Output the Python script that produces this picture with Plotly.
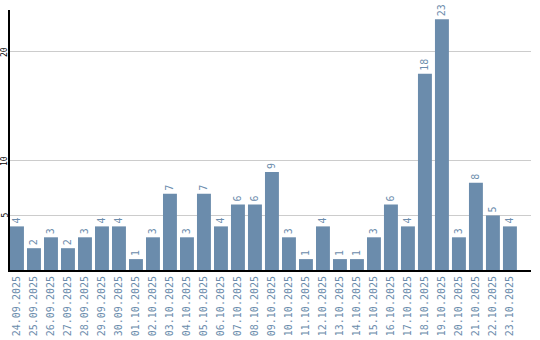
import plotly.graph_objects as go

dates = ["24.09.2025","25.09.2025","26.09.2025","27.09.2025","28.09.2025","29.09.2025","30.09.2025",
         "01.10.2025","02.10.2025","03.10.2025","04.10.2025","05.10.2025","06.10.2025","07.10.2025",
         "08.10.2025","09.10.2025","10.10.2025","11.10.2025","12.10.2025","13.10.2025","14.10.2025",
         "15.10.2025","16.10.2025","17.10.2025","18.10.2025","19.10.2025","20.10.2025","21.10.2025",
         "22.10.2025","23.10.2025"]
values = [4,2,3,2,3,4,4,1,3,7,3,7,4,6,6,9,3,1,4,1,1,3,6,4,18,23,3,8,5,4]
ytick_vals = [5, 10, 20]

bar_color = "#6b8cac"
font_fam = "DejaVu Sans Mono"

fig = go.Figure(go.Bar(
    x=dates, y=values,
    marker=dict(color=bar_color, line=dict(width=0)),
    text=[str(v) for v in values],
    textposition="outside",
    textangle=-90,
    textfont=dict(family=font_fam, size=10, color=bar_color),
    cliponaxis=False,
))

for v in ytick_vals:
    fig.add_annotation(
        x=0, xref="paper", y=v, yref="y",
        text=str(v), showarrow=False, textangle=-90,
        xanchor="center", yanchor="middle", xshift=-5,
        font=dict(family=font_fam, size=8, color="black"),
    )

fig.update_layout(
    width=540, height=340,
    margin=dict(l=10, r=9, t=10, b=70),
    plot_bgcolor="white", paper_bgcolor="white",
    bargap=0.18,
    showlegend=False,
    xaxis=dict(
        type="category", range=[-0.41, 30.24],
        showline=True, linecolor="black", linewidth=2,
        showgrid=False, ticks="", automargin=False,
        tickangle=-90,
        tickfont=dict(family=font_fam, size=10, color=bar_color),
    ),
    yaxis=dict(
        range=[0, 23.85],
        tickvals=ytick_vals,
        showline=True, linecolor="black", linewidth=2,
        showgrid=True, gridcolor="#cccccc", gridwidth=1,
        ticks="", showticklabels=False, automargin=False,
        zeroline=False,
    ),
)

fig.write_html("out.html")
